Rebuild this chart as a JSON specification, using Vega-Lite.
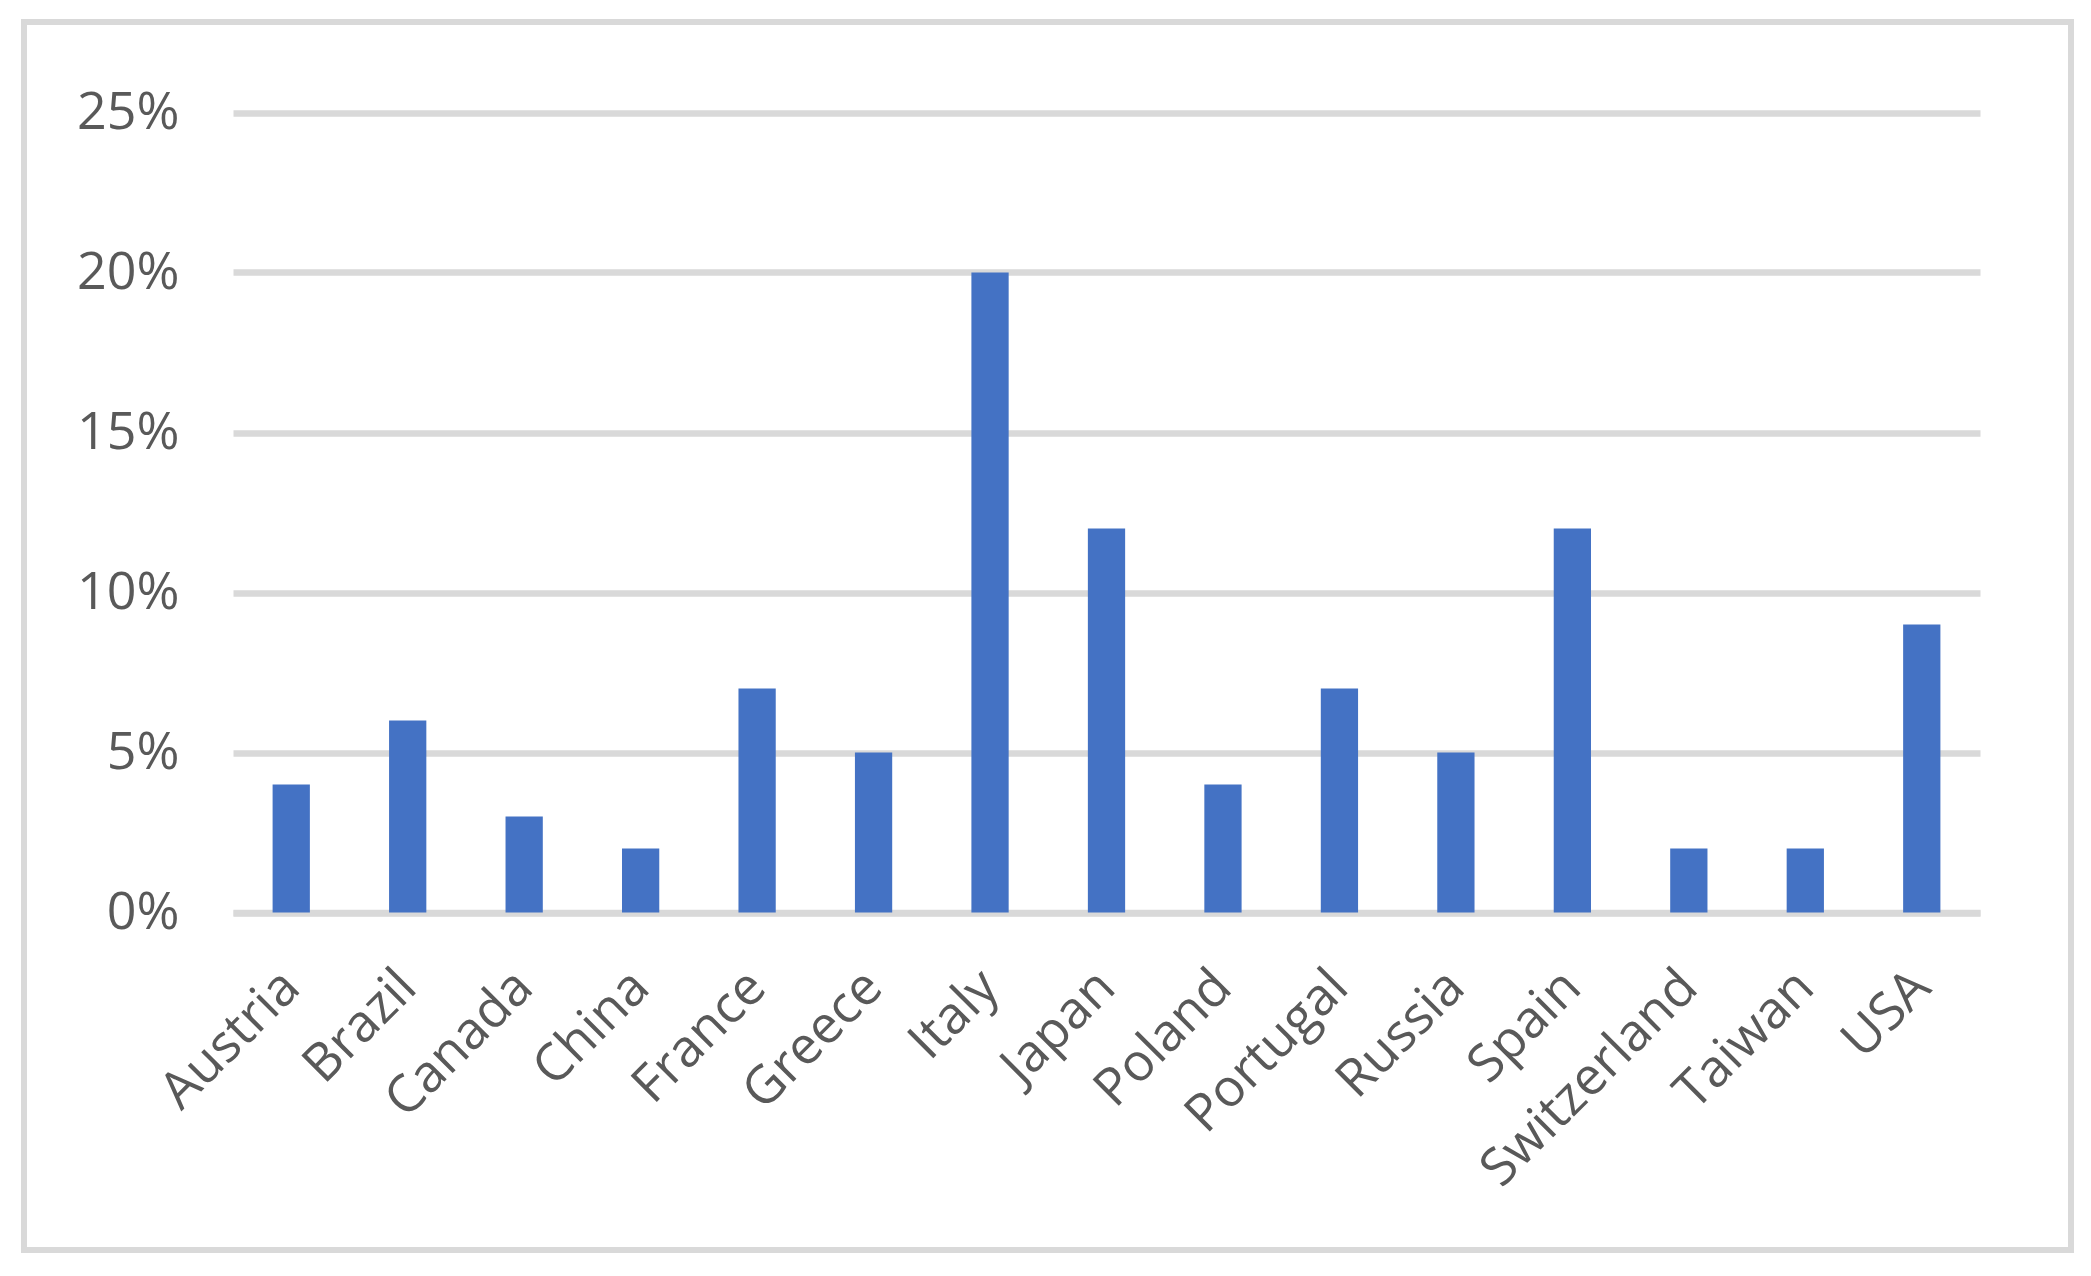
{
  "$schema": "https://vega.github.io/schema/vega-lite/v6.json",
  "autosize": {"type": "none"},
  "width": 2047,
  "height": 1228,
  "padding": {"left": 24, "top": 22, "right": 20, "bottom": 26},
  "background": "white",
  "config": {"view": {"stroke": "#d9d9d9", "strokeWidth": 6}, "font": "Open Sans"},
  "data": {
    "values": [
      {"country": "Austria", "share": 0.04},
      {"country": "Brazil", "share": 0.06},
      {"country": "Canada", "share": 0.03},
      {"country": "China", "share": 0.02},
      {"country": "France", "share": 0.07},
      {"country": "Greece", "share": 0.05},
      {"country": "Italy", "share": 0.20},
      {"country": "Japan", "share": 0.12},
      {"country": "Poland", "share": 0.04},
      {"country": "Portugal", "share": 0.07},
      {"country": "Russia", "share": 0.05},
      {"country": "Spain", "share": 0.12},
      {"country": "Switzerland", "share": 0.02},
      {"country": "Taiwan", "share": 0.02},
      {"country": "USA", "share": 0.09}
    ]
  },
  "mark": {"type": "bar", "color": "#4472c4"},
  "encoding": {
    "x": {
      "field": "country", "type": "nominal", "sort": null,
      "scale": {"range": [209, 1956], "paddingInner": 0.68, "paddingOuter": 0.34},
      "axis": {
        "title": null, "offset": -337.5, "labelAngle": -45, "labelAlign": "right", "labelBaseline": "middle",
        "labelPadding": 66, "ticks": false, "tickSize": 0, "domainColor": "#d9d9d9", "domainWidth": 6.5,
        "labelFontSize": 52, "labelColor": "#595959", "grid": false, "labelLimit": 0, "labelOverlap": false
      }
    },
    "y": {
      "field": "share", "type": "quantitative",
      "scale": {"domain": [0, 0.25], "range": [890.5, 90.5], "nice": false},
      "axis": {
        "title": null, "offset": -209, "values": [0, 0.05, 0.1, 0.15, 0.2, 0.25], "format": ".0%",
        "domain": false, "ticks": false, "tickSize": 0, "labelPadding": 54,
        "gridColor": "#d9d9d9", "gridWidth": 6.5, "labelFontSize": 52, "labelColor": "#595959", "labelBaseline": "middle"
      }
    }
  }
}
